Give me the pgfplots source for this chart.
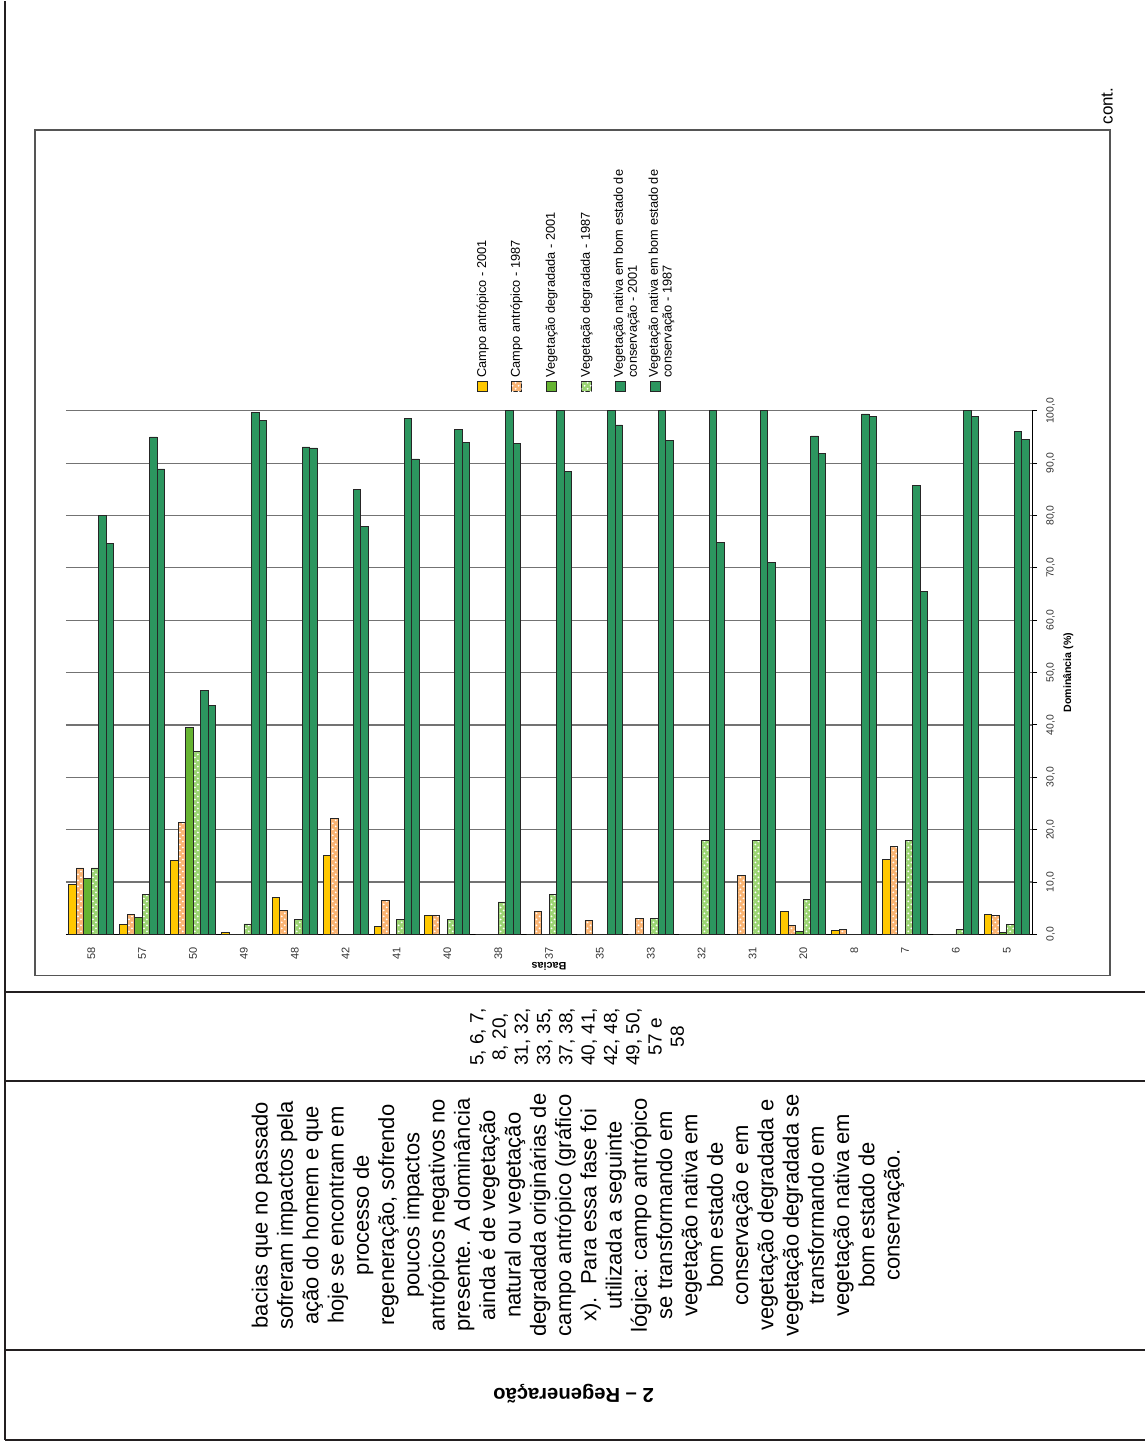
\documentclass[border=0pt]{standalone}
\usepackage{fontspec}
\setmainfont{Liberation Sans}
\usepackage{pgfplots}
\usepackage{pgfplotstable}
\pgfplotsset{compat=1.18}
\usetikzlibrary{patterns}
\definecolor{caA}{RGB}{255,200,0}
\definecolor{caB}{RGB}{250,180,115}
\definecolor{vdA}{RGB}{102,180,50}
\definecolor{vdB}{RGB}{155,212,115}
\definecolor{vn}{RGB}{44,150,95}
\definecolor{frame}{RGB}{85,85,85}
\definecolor{ink}{RGB}{35,31,32}
\definecolor{gridc}{RGB}{115,115,115}

\pgfplotstableread{
x ca01 ca87 vd01 vd87 vn01 vn87
0 9.5 12.7 10.7 12.7 80.0 74.6
1 1.9 3.8 3.3 7.6 95.0 88.9
2 14.1 21.3 39.5 34.9 46.6 43.7
3 0.4 0 0 2.0 99.6 98.1
4 7.0 4.5 0 2.9 93.1 92.9
5 15.0 22.1 0 0 84.9 77.9
6 1.5 6.5 0 2.8 98.5 90.8
7 3.6 3.6 0 2.8 96.4 93.9
8 0 0 0 6.2 100 93.7
9 0 4.3 0 7.6 100 88.4
10 0 2.6 0 0 100 97.3
11 0 3.1 0 3.1 100 94.3
12 0 0 0 17.9 100 74.8
13 0 11.3 0 17.9 100 71.0
14 4.3 1.7 0.5 6.7 95.2 91.8
15 0.7 0.9 0 0 99.4 99.0
16 14.3 16.8 0 17.9 85.7 65.5
17 0 0 0 0.95 100 99.0
18 3.8 3.7 0.4 1.85 96.0 94.6
}\datatable

\begin{document}
\begin{tikzpicture}
\path (0,0) rectangle (573pt,-722pt);
\begin{scope}[x=0.5pt,y=-0.5pt]
  % page table lines
  \draw[ink, line width=1.1pt] (5,0) -- (5,1440);
  \foreach \yy in {992,1081,1350,1440}{\draw[ink, line width=1.1pt] (5,\yy) -- (1146,\yy);}
  % chart frame
  \draw[frame, line width=0.8pt] (35,129) rectangle (1111,975);
  \node[rotate=90, font=\fontsize{8.5}{10}\selectfont, inner sep=0pt] at (1108,105) {cont.};
  % legend (keys and texts)
  \tikzset{lk/.style={draw=black!85, line width=0.4pt},
           lt/.style={rotate=90, anchor=west, align=left, inner sep=0pt, font=\fontsize{6.4}{5.6}\selectfont}}
  \draw[lk, fill=caA] (478,381) rectangle (488,391);
  \node[lt] at (483,377) {Campo antrópico - 2001};
  \draw[lk, fill=caB, postaction={pattern=crosshatch dots, pattern color=white}] (512,381) rectangle (522,391);
  \node[lt] at (517,377) {Campo antrópico - 1987};
  \draw[lk, fill=vdA] (547,381) rectangle (557,391);
  \node[lt] at (552,377) {Vegetação degradada - 2001};
  \draw[lk, fill=vdB, postaction={pattern=crosshatch dots, pattern color=white}] (582,381) rectangle (592,391);
  \node[lt] at (587,377) {Vegetação degradada - 1987};
  \draw[lk, fill=vn] (616,381) rectangle (626,391);
  \node[lt] at (627,377) {Vegetação nativa em bom estado de\\conservação - 2001};
  \draw[lk, fill=vn] (651,381) rectangle (661,391);
  \node[lt] at (662,377) {Vegetação nativa em bom estado de\\conservação - 1987};
  % list column
  \node[rotate=90, align=center, font=\fontsize{9.5}{11.15}\selectfont, inner sep=0pt] at (577.5,1036.5)
    {5, 6, 7,\\8, 20,\\31, 32,\\33, 35,\\37, 38,\\40, 41,\\42, 48,\\49, 50,\\57 e\\58};
  % paragraph column
  \node[rotate=90, align=center, font=\fontsize{11}{12.65}\selectfont, inner sep=0pt] at (578.5,1215)
    {bacias que no passado\\sofreram impactos pela\\ação do homem e que\\hoje se encontram em\\processo de\\regeneração, sofrendo\\poucos impactos\\antrópicos negativos no\\presente. A dominância\\ainda é de vegetação\\natural ou vegetação\\degradada originárias de\\campo antrópico (gráfico\\x).\ \ Para essa fase foi\\utilizada a seguinte\\lógica: campo antrópico\\se transformando em\\vegetação nativa em\\bom estado de\\conservação e em\\vegetação degradada e\\vegetação degradada se\\transformando em\\vegetação nativa em\\bom estado de\\conservação.};
  \node[rotate=180, font=\bfseries\fontsize{10.1}{12}\selectfont, inner sep=0pt] at (574,1394) {2 – Regeneração};
\end{scope}

\begin{axis}[
  at={(33pt,-467pt)}, anchor=south west,
  scale only axis, width=483.5pt, height=262pt,
  xmin=-0.5, xmax=18.5, ymin=0, ymax=100,
  clip=false,
  ybar=0pt, bar width=3.75pt,
  axis x line*=bottom, axis y line*=right,
  axis line style={-, black, line width=0.6pt},
  ymajorgrids, grid style={gridc, line width=0.6pt},
  tick align=outside, tick style={black, line width=0.5pt},
  ytick={0,10,...,100}, major tick length=2.5pt,
  xtick={0,...,18},
  xticklabels={58,57,50,49,48,42,41,40,38,37,35,33,32,31,20,8,7,6,5},
  x tick style={draw=none},
  minor xtick={-0.5,0.5,...,18.5},
  minor x tick style={black, line width=0.5pt},
  minor tick length=2.5pt,
  xticklabel style={yshift=-0.6pt, rotate=90, anchor=east, font=\fontsize{5.5}{6}\selectfont, text=black!80},
  yticklabel style={xshift=1pt, rotate=90, anchor=north, font=\fontsize{5.2}{6}\selectfont, text=black!80,
    /pgf/number format/.cd, fixed, fixed zerofill, precision=1, use comma, assume math mode=true},
  every axis plot/.append style={draw=black!85, line width=0.4pt},
]
\addplot[fill=caA] table[x=x, y=ca01] {\datatable};
\addplot[fill=caB, postaction={pattern=crosshatch dots, pattern color=white}] table[x=x, y=ca87] {\datatable};
\addplot[fill=vdA] table[x=x, y=vd01] {\datatable};
\addplot[fill=vdB, postaction={pattern=crosshatch dots, pattern color=white}] table[x=x, y=vd87] {\datatable};
\addplot[fill=vn] table[x=x, y=vn01] {\datatable};
\addplot[fill=vn] table[x=x, y=vn87] {\datatable};
\node[xshift=18pt, rotate=90, font=\bfseries\fontsize{5.3}{6}\selectfont] at (rel axis cs:1,0.5) {Dominância (\%)};
\node[yshift=-15.8pt, rotate=180, font=\bfseries\fontsize{5.4}{6}\selectfont] at (rel axis cs:0.5,0) {Bacias};
\end{axis}
\end{tikzpicture}
\end{document}
